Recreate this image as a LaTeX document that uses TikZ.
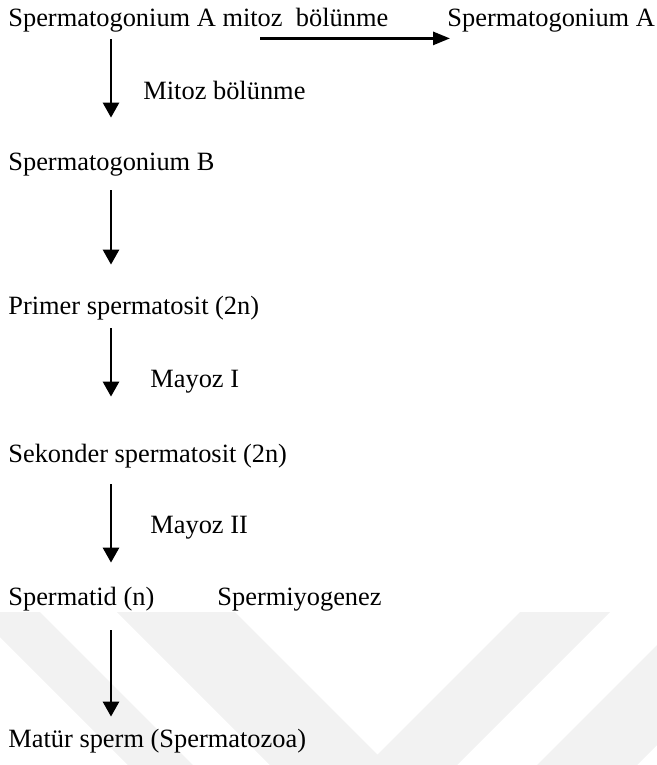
\documentclass[tikz,border=0pt]{standalone}
\usepackage{fontspec}
\setmainfont{Liberation Serif}
\usepackage{tikz}
\usetikzlibrary{arrows.meta}

\begin{document}
\begin{tikzpicture}[x=0.5pt, y=-0.5pt, main/.style = {anchor=base west, inner sep=0pt, text height=9.25pt, text depth=2.85pt, font=\fontsize{13.2}{15.8}\selectfont}, arr/.style = {-{Triangle[length=7.5pt,width=8pt]}, line width=1.4pt}, harr/.style = {-{Triangle[length=8.5pt,width=6.5pt]}, line width=1.4pt}, wmark/.style = {fill=black!5}]
            \useasboundingbox (0,0) rectangle (657,765);
            \begin{scope}
                \clip (0,612) rectangle (657,765);
                \fill[wmark] (-25,612) -- (40,612) -- (193,765) -- (128,765) -- cycle;
                \fill[wmark] (117,612) -- (235,612) -- (388,765) -- (270,765) -- cycle;
                \fill[wmark] (520,612) -- (610,612) -- (457,765) -- (367,765) -- cycle;
                \fill[wmark] (690,612) -- (790,612) -- (637,765) -- (537,765) -- cycle;
            \end{scope}

            \node[main] (spAm) at (8,27) {Spermatogonium A mitoz\ \ bölünme};
            \node[main] (spA) at (447,27) {Spermatogonium A};
            \node[main] (spB) at (8,170) {Spermatogonium B};
            \node[main] (prim) at (8,314) {Primer spermatosit (2n)};
            \node[main] (sek) at (8,462) {Sekonder spermatosit (2n)};
            \node[main] (spd) at (8,605) {Spermatid (n)};
            \node[main] (mat) at (8,747) {Matür sperm (Spermatozoa)};

            \node[main] (mit) at (143,100) {Mitoz bölünme};
            \node[main] (my1) at (150,387) {Mayoz I};
            \node[main] (my2) at (150,533) {Mayoz II};
            \node[main] (spg) at (217,605) {Spermiyogenez};

            \coordinate (col) at (111,0);
            \path[harr] ([xshift=126pt,yshift=-2.65pt]spAm.south west) edge ([xshift=1.5pt,yshift=-2.65pt]spA.south west);
            \path[arr] (spAm.south -| col) edge[shorten <=3.15pt, shorten >=16.75pt] (spB.north -| col);
            \path[arr] (spB.south -| col) edge[shorten <=7.15pt, shorten >=15.25pt] (prim.north -| col);
            \path[arr] (prim.south -| col) edge[shorten <=4.15pt, shorten >=23.25pt] (sek.north -| col);
            \path[arr] (sek.south -| col) edge[shorten <=8.15pt, shorten >=11.75pt] (spd.north -| col);
            \path[arr] (spd.south -| col) edge[shorten <=9.65pt, shorten >=5.75pt] (mat.north -| col);
        \end{tikzpicture}
\end{document}
